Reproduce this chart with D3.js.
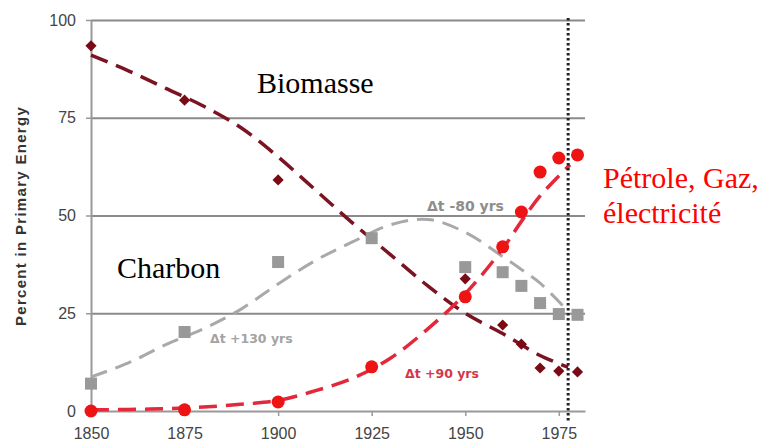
<!DOCTYPE html>
<html>
<head>
<meta charset="utf-8">
<script src="https://cdn.jsdelivr.net/npm/d3@7"></script>
<style>
  body { margin: 0; background: #fff; }
  svg { display: block; }
</style>
</head>
<body>
<div class="chart-container"></div>
<script>
// observed shares (% of primary energy)
const years = [1850, 1875, 1900, 1925, 1950, 1960, 1965, 1970, 1975, 1980];
const biomasse = [93.4, 79.5, 59.1, null, 33.8, 22.0, 17.1, 11.0, 10.2, 10.0];
const charbon = [7.0, 20.2, 38.1, 44.2, 36.8, 35.5, 32.0, 27.6, 24.8, 24.6];
const petrole = [0, 0.3, 2.3, 11.3, 29.2, 42.0, 50.9, 61.1, 64.7, 65.5];

// fitted curves
const biomasseFitYears = [1850, 1860, 1870, 1880, 1890, 1900, 1910, 1920, 1930, 1940, 1950, 1960, 1970, 1977.5];
const biomasseFit = [91, 87, 82.5, 78, 72.5, 65, 56.5, 48, 40, 32, 25, 19.8, 14.2, 11.2];
const charbonFitYears = [1850, 1860, 1870, 1880, 1890, 1900, 1910, 1920, 1930, 1940, 1950, 1960, 1965, 1970, 1976];
const charbonFit = [8.7, 12.3, 17, 21, 26, 32.5, 38.5, 43.3, 47.6, 49, 45.7, 39.5, 36.2, 32.7, 27];
const petroleFitYears = [1850, 1860, 1870, 1880, 1890, 1900, 1910, 1920, 1930, 1940, 1950, 1960, 1965, 1970, 1978];
const petroleFit = [0.3, 0.4, 0.6, 1.0, 1.7, 2.7, 5.2, 8.4, 13.5, 21, 30, 41.5, 48.5, 55, 63];

const xTicks = [1850, 1875, 1900, 1925, 1950, 1975];
const yTicks = [0, 25, 50, 75, 100];
const markYear = 1977.5;

// canvas
const w = 759;
const h = 446;

const svg = d3
  .select(".chart-container")
  .append("svg")
  .attr("width", w)
  .attr("height", h);

const xScale = d3.scaleLinear().domain([1850, 1982]).range([91, 585]);
const yScale = d3.scaleLinear().domain([0, 100]).range([411, 20]);

// grid lines
svg
  .append("g")
  .attr("transform", "translate(91,0)")
  .call(
    d3.axisLeft(yScale).tickValues([25, 50, 75, 100]).tickSize(-(585 - 91)).tickFormat("")
  )
  .call((g) => g.select(".domain").remove())
  .selectAll("line")
  .attr("stroke", "#8a8a8a")
  .attr("stroke-width", 2);

// y axis
const yAxis = svg
  .append("g")
  .attr("id", "y-axis")
  .attr("transform", "translate(91,0)")
  .call(d3.axisLeft(yScale).tickValues(yTicks).tickSize(5).tickPadding(10).tickSizeOuter(0));
yAxis.select(".domain").attr("stroke", "#999").attr("stroke-width", 2);
yAxis.selectAll("line").attr("stroke", "#999").attr("stroke-width", 1.5);
yAxis
  .selectAll("text")
  .attr("font-family", "Arial, 'Liberation Sans', sans-serif")
  .attr("font-size", 16)
  .attr("fill", "#444");

// x axis
const xAxis = svg
  .append("g")
  .attr("id", "x-axis")
  .attr("transform", "translate(0,411)")
  .call(
    d3.axisBottom(xScale).tickValues(xTicks).tickSize(5).tickPadding(12).tickSizeOuter(0).tickFormat(d3.format("d"))
  );
xAxis.select(".domain").attr("stroke", "#999").attr("stroke-width", 2);
xAxis.selectAll("line").attr("stroke", "#999").attr("stroke-width", 1.5);
xAxis
  .selectAll("text")
  .attr("font-family", "Arial, 'Liberation Sans', sans-serif")
  .attr("font-size", 16)
  .attr("fill", "#444");

// y axis title
svg
  .append("text")
  .attr("transform", "translate(26,216) rotate(-90)")
  .attr("text-anchor", "middle")
  .attr("font-family", "Arial, 'Liberation Sans', sans-serif")
  .attr("font-weight", "bold")
  .attr("font-size", 15)
  .attr("letter-spacing", 1.3)
  .attr("fill", "#333")
  .text("Percent in Primary Energy");

// fitted dashed curves
const fitLine = d3
  .line()
  .x((d) => xScale(d[0]))
  .y((d) => yScale(d[1]))
  .curve(d3.curveCatmullRom.alpha(0.5));

svg
  .append("path")
  .attr("d", fitLine(d3.zip(charbonFitYears, charbonFit)))
  .attr("fill", "none")
  .attr("stroke", "#a9a9a9")
  .attr("stroke-width", 3)
  .attr("stroke-dasharray", "17,9");

svg
  .append("path")
  .attr("d", fitLine(d3.zip(biomasseFitYears, biomasseFit)))
  .attr("fill", "none")
  .attr("stroke", "#7a1422")
  .attr("stroke-width", 3.5)
  .attr("stroke-dasharray", "18,9");

svg
  .append("path")
  .attr("d", fitLine(d3.zip(petroleFitYears, petroleFit)))
  .attr("fill", "none")
  .attr("stroke", "#e2283a")
  .attr("stroke-width", 3.5)
  .attr("stroke-dasharray", "18,9");

// markers
const pts = (vals) =>
  years.map((y, i) => [y, vals[i]]).filter((d) => d[1] !== null);

svg
  .selectAll(".sq")
  .data(pts(charbon))
  .enter()
  .append("rect")
  .attr("class", "sq")
  .attr("x", (d) => xScale(d[0]) - 6)
  .attr("y", (d) => yScale(d[1]) - 6)
  .attr("width", 12)
  .attr("height", 12)
  .attr("fill", "#999");

svg
  .selectAll(".dia")
  .data(pts(biomasse))
  .enter()
  .append("path")
  .attr("class", "dia")
  .attr("d", d3.symbol(d3.symbolDiamond2, 80))
  .attr("transform", (d) => "translate(" + xScale(d[0]) + "," + yScale(d[1]) + ")")
  .attr("fill", "#7a0a14");

svg
  .selectAll(".dot")
  .data(pts(petrole))
  .enter()
  .append("circle")
  .attr("class", "dot")
  .attr("cx", (d) => xScale(d[0]))
  .attr("cy", (d) => yScale(d[1]))
  .attr("r", 6.5)
  .attr("fill", "#ee1414");

// dotted marker line
svg
  .append("line")
  .attr("x1", xScale(markYear))
  .attr("x2", xScale(markYear))
  .attr("y1", 18)
  .attr("y2", 422)
  .attr("stroke", "#222")
  .attr("stroke-width", 3)
  .attr("stroke-dasharray", "2.5,2.5");

// delta-t annotations
const note = (x, y, txt, color, size) =>
  svg
    .append("text")
    .attr("x", x)
    .attr("y", y)
    .attr("font-family", "'DejaVu Sans', Verdana, sans-serif")
    .attr("font-weight", "bold")
    .attr("font-size", size)
    .attr("fill", color)
    .text(txt);

note(427, 211, "\u0394t -80 yrs", "#8e8e8e", 14);
note(210, 343, "\u0394t +130 yrs", "#a3a3a3", 12.5);
note(405, 378, "\u0394t +90 yrs", "#d4374a", 12.5);

// series names
const label = (x, y, txt, color) =>
  svg
    .append("text")
    .attr("x", x)
    .attr("y", y)
    .attr("font-family", "'Liberation Serif', 'Times New Roman', serif")
    .attr("font-size", 30)
    .attr("fill", color)
    .text(txt);

label(257, 93, "Biomasse", "#000");
label(117, 278, "Charbon", "#000");
label(603, 188, "P\u00e9trole, Gaz,", "#ff0000");
label(603, 223, "\u00e9lectricit\u00e9", "#ff0000");
</script>
</body>
</html>
